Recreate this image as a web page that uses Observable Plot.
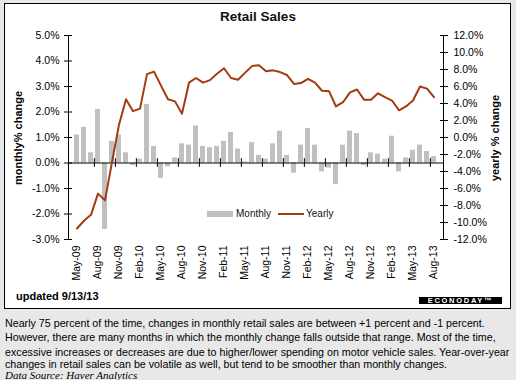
<!DOCTYPE html>
<html>
<head>
<meta charset="utf-8">
<script src="https://cdn.jsdelivr.net/npm/d3@7"></script>
<script src="https://cdn.jsdelivr.net/npm/@observablehq/plot@0.6"></script>
<style>
  html, body { margin: 0; padding: 0; }
  body { width: 516px; height: 380px; background: #e8e8e8; font-family: "Liberation Sans", Arial, sans-serif; overflow: hidden; }
  #wrap { position: relative; width: 516px; height: 380px; }
  #box { position: absolute; left: 4px; top: 3px; width: 505px; height: 304px; border: 1px solid #000; background: #fff; }
  #chart { position: absolute; left: 0; top: 0; }
  .abs { position: absolute; white-space: nowrap; }
  #title { left: 0; width: 516px; top: 9px; text-align: center; font-weight: bold; font-size: 13.5px; color: #111; }
  .ytitle { font-weight: bold; font-size: 11px; color: #000; transform: translate(-50%, -50%) rotate(-90deg); line-height: 12px; }
  .leg { font-size: 10px; color: #111; line-height: 12px; }
  .txt { left: 5px; font-size: 10.7px; line-height: 14px; color: #000; }
  #src { left: 5px; font-family: "Liberation Serif", "Times New Roman", serif; font-style: italic; font-size: 11px; line-height: 14px; }
  #upd { left: 16px; top: 289px; font-weight: bold; font-size: 11px; line-height: 14px; }
  #logo { left: 419px; top: 297px; width: 83px; height: 7px; background: #000; color: #fff; font-size: 7.5px; line-height: 7px; font-weight: bold; letter-spacing: 1.7px; text-align: center; }
</style>
</head>
<body>
<div id="wrap">
  <div id="box"></div>
  <div id="chart"></div>
  <div id="title" class="abs">Retail Sales</div>
  <div class="abs ytitle" style="left:18px; top:137.5px;">monthly% change</div>
  <div class="abs ytitle" style="left:495px; top:137.5px;">yearly % change</div>
  <div class="abs" style="left:207px; top:211px; width:26px; height:6px; background:#c0c0c0;"></div>
  <div class="abs leg" style="left:236px; top:208px;">Monthly</div>
  <div class="abs" style="left:278px; top:213px; width:26px; height:2px; background:#a33b10;"></div>
  <div class="abs leg" style="left:306px; top:208px;">Yearly</div>
  <div id="upd" class="abs">updated 9/13/13</div>
  <div id="logo" class="abs">ECONODAY™</div>
  <div class="abs txt" style="top:316px;">Nearly 75 percent of the time, changes in monthly retail sales are between +1 percent and -1 percent.</div>
  <div class="abs txt" style="top:330px;">However, there are many months in which the monthly change falls outside that range. Most of the time,</div>
  <div class="abs txt" style="top:344.5px;">excessive increases or decreases are due to higher/lower spending on motor vehicle sales. Year-over-year</div>
  <div class="abs txt" style="top:357px;">changes in retail sales can be volatile as well, but tend to be smoother than monthly changes.</div>
  <div id="src" class="abs" style="top:367.5px;">Data Source: Haver Analytics</div>
</div>
<script>
const months = [
  "May-09","Jun-09","Jul-09","Aug-09","Sep-09","Oct-09","Nov-09","Dec-09",
  "Jan-10","Feb-10","Mar-10","Apr-10","May-10","Jun-10","Jul-10","Aug-10","Sep-10","Oct-10","Nov-10","Dec-10",
  "Jan-11","Feb-11","Mar-11","Apr-11","May-11","Jun-11","Jul-11","Aug-11","Sep-11","Oct-11","Nov-11","Dec-11",
  "Jan-12","Feb-12","Mar-12","Apr-12","May-12","Jun-12","Jul-12","Aug-12","Sep-12","Oct-12","Nov-12","Dec-12",
  "Jan-13","Feb-13","Mar-13","Apr-13","May-13","Jun-13","Jul-13","Aug-13"
];
const monthly = [
  1.1, 1.4, 0.4, 2.1, -2.6, 0.85, 1.1, 0.4,
  -0.1, 0.15, 2.3, 0.65, -0.6, -0.15, 0.2, 0.75, 0.7, 1.45, 0.65, 0.6,
  0.65, 0.85, 1.2, 0.55, 0.05, 0.8, 0.3, 0.15, 0.75, 1.25, 0.3, -0.4,
  0.7, 1.35, 0.7, -0.35, -0.2, -0.85, 0.7, 1.25, 1.15, -0.1, 0.4, 0.35,
  0.15, 1.05, -0.35, 0.2, 0.5, 0.7, 0.45, 0.25
];
const yearly = [
  -10.7, -9.8, -9.1, -6.6, -7.4, -2.9, 1.5, 4.5,
  3.1, 3.4, 7.45, 7.75, 6.1, 4.5, 4.25, 2.8, 6.45, 7.0, 6.45, 6.75,
  7.5, 8.15, 7.0, 6.8, 7.6, 8.4, 8.5, 7.8, 7.9, 7.7, 7.35, 6.3,
  6.4, 6.9, 6.45, 5.5, 5.45, 3.65, 4.15, 5.3, 5.65, 4.45, 4.45, 5.2,
  4.75, 4.35, 3.2, 3.65, 4.35, 6.0, 5.75, 4.75
];
const leftTicks = [-3, -2, -1, 0, 1, 2, 3, 4, 5];
const rightTicks = [-12, -10, -8, -6, -4, -2, 0, 2, 4, 6, 8, 10, 12];
const labelMonths = months.filter((d, i) => i % 3 === 0);
const boundaryMonths = months.filter((d, i) => i > 0 && i % 3 === 0);

// right axis (yearly) mapped onto the left (monthly) scale: 12% <-> 5%, -12% <-> -3%
const toLeft = v => v / 3 + 1;
const toRight = v => Math.round((v - 1) * 3 * 10) / 10;

const data = months.map((m, i) => ({month: m, monthly: monthly[i], yearly: yearly[i]}));

const W = 516, H = 310;
const x0 = 66.4, x1 = 443.9;
const step = (x1 - x0) / months.length;

const chart = Plot.plot({
  width: W,
  height: H,
  marginLeft: 68,
  marginRight: 73,
  marginTop: 35,
  marginBottom: 71,
  style: {background: "transparent", fontFamily: "'Liberation Sans', Arial, sans-serif", fontSize: "10.5px", color: "#000"},
  x: {type: "band", domain: months, range: [x0, x1], paddingInner: 0.3, paddingOuter: 0.15, axis: null, label: null},
  y: {domain: [-3, 5], axis: null, label: null},
  marks: [
    Plot.barY(data, {x: "month", y: "monthly", fill: "#c0c0c0"}),
    Plot.ruleY([0], {stroke: "#000", strokeWidth: 1}),
    Plot.ruleX(boundaryMonths, {x: d => d, y1: -0.17, y2: 0.17, dx: -step / 2, stroke: "#000", strokeWidth: 1}),
    Plot.frame({anchor: "left", stroke: "#000"}),
    Plot.frame({anchor: "right", stroke: "#000"}),
    Plot.axisY({anchor: "left", label: null, ticks: leftTicks, tickFormat: d => d.toFixed(1) + "%", tickSize: 8, dx: 4, tickPadding: 5, fontSize: 10.5}),
    Plot.axisY({anchor: "right", label: null, ticks: rightTicks.map(toLeft), tickFormat: d => toRight(d).toFixed(1) + "%", tickSize: 8, dx: -4, tickPadding: 6, fontSize: 10.5}),
    Plot.axisX({anchor: "bottom", label: null, ticks: labelMonths, tickRotate: -90, tickSize: 0, tickPadding: 6, fontSize: 10.5}),
    Plot.lineY(data, {x: "month", y: d => toLeft(d.yearly), stroke: "#a33b10", strokeWidth: 2})
  ]
});
document.getElementById("chart").appendChild(chart);
</script>
</body>
</html>
